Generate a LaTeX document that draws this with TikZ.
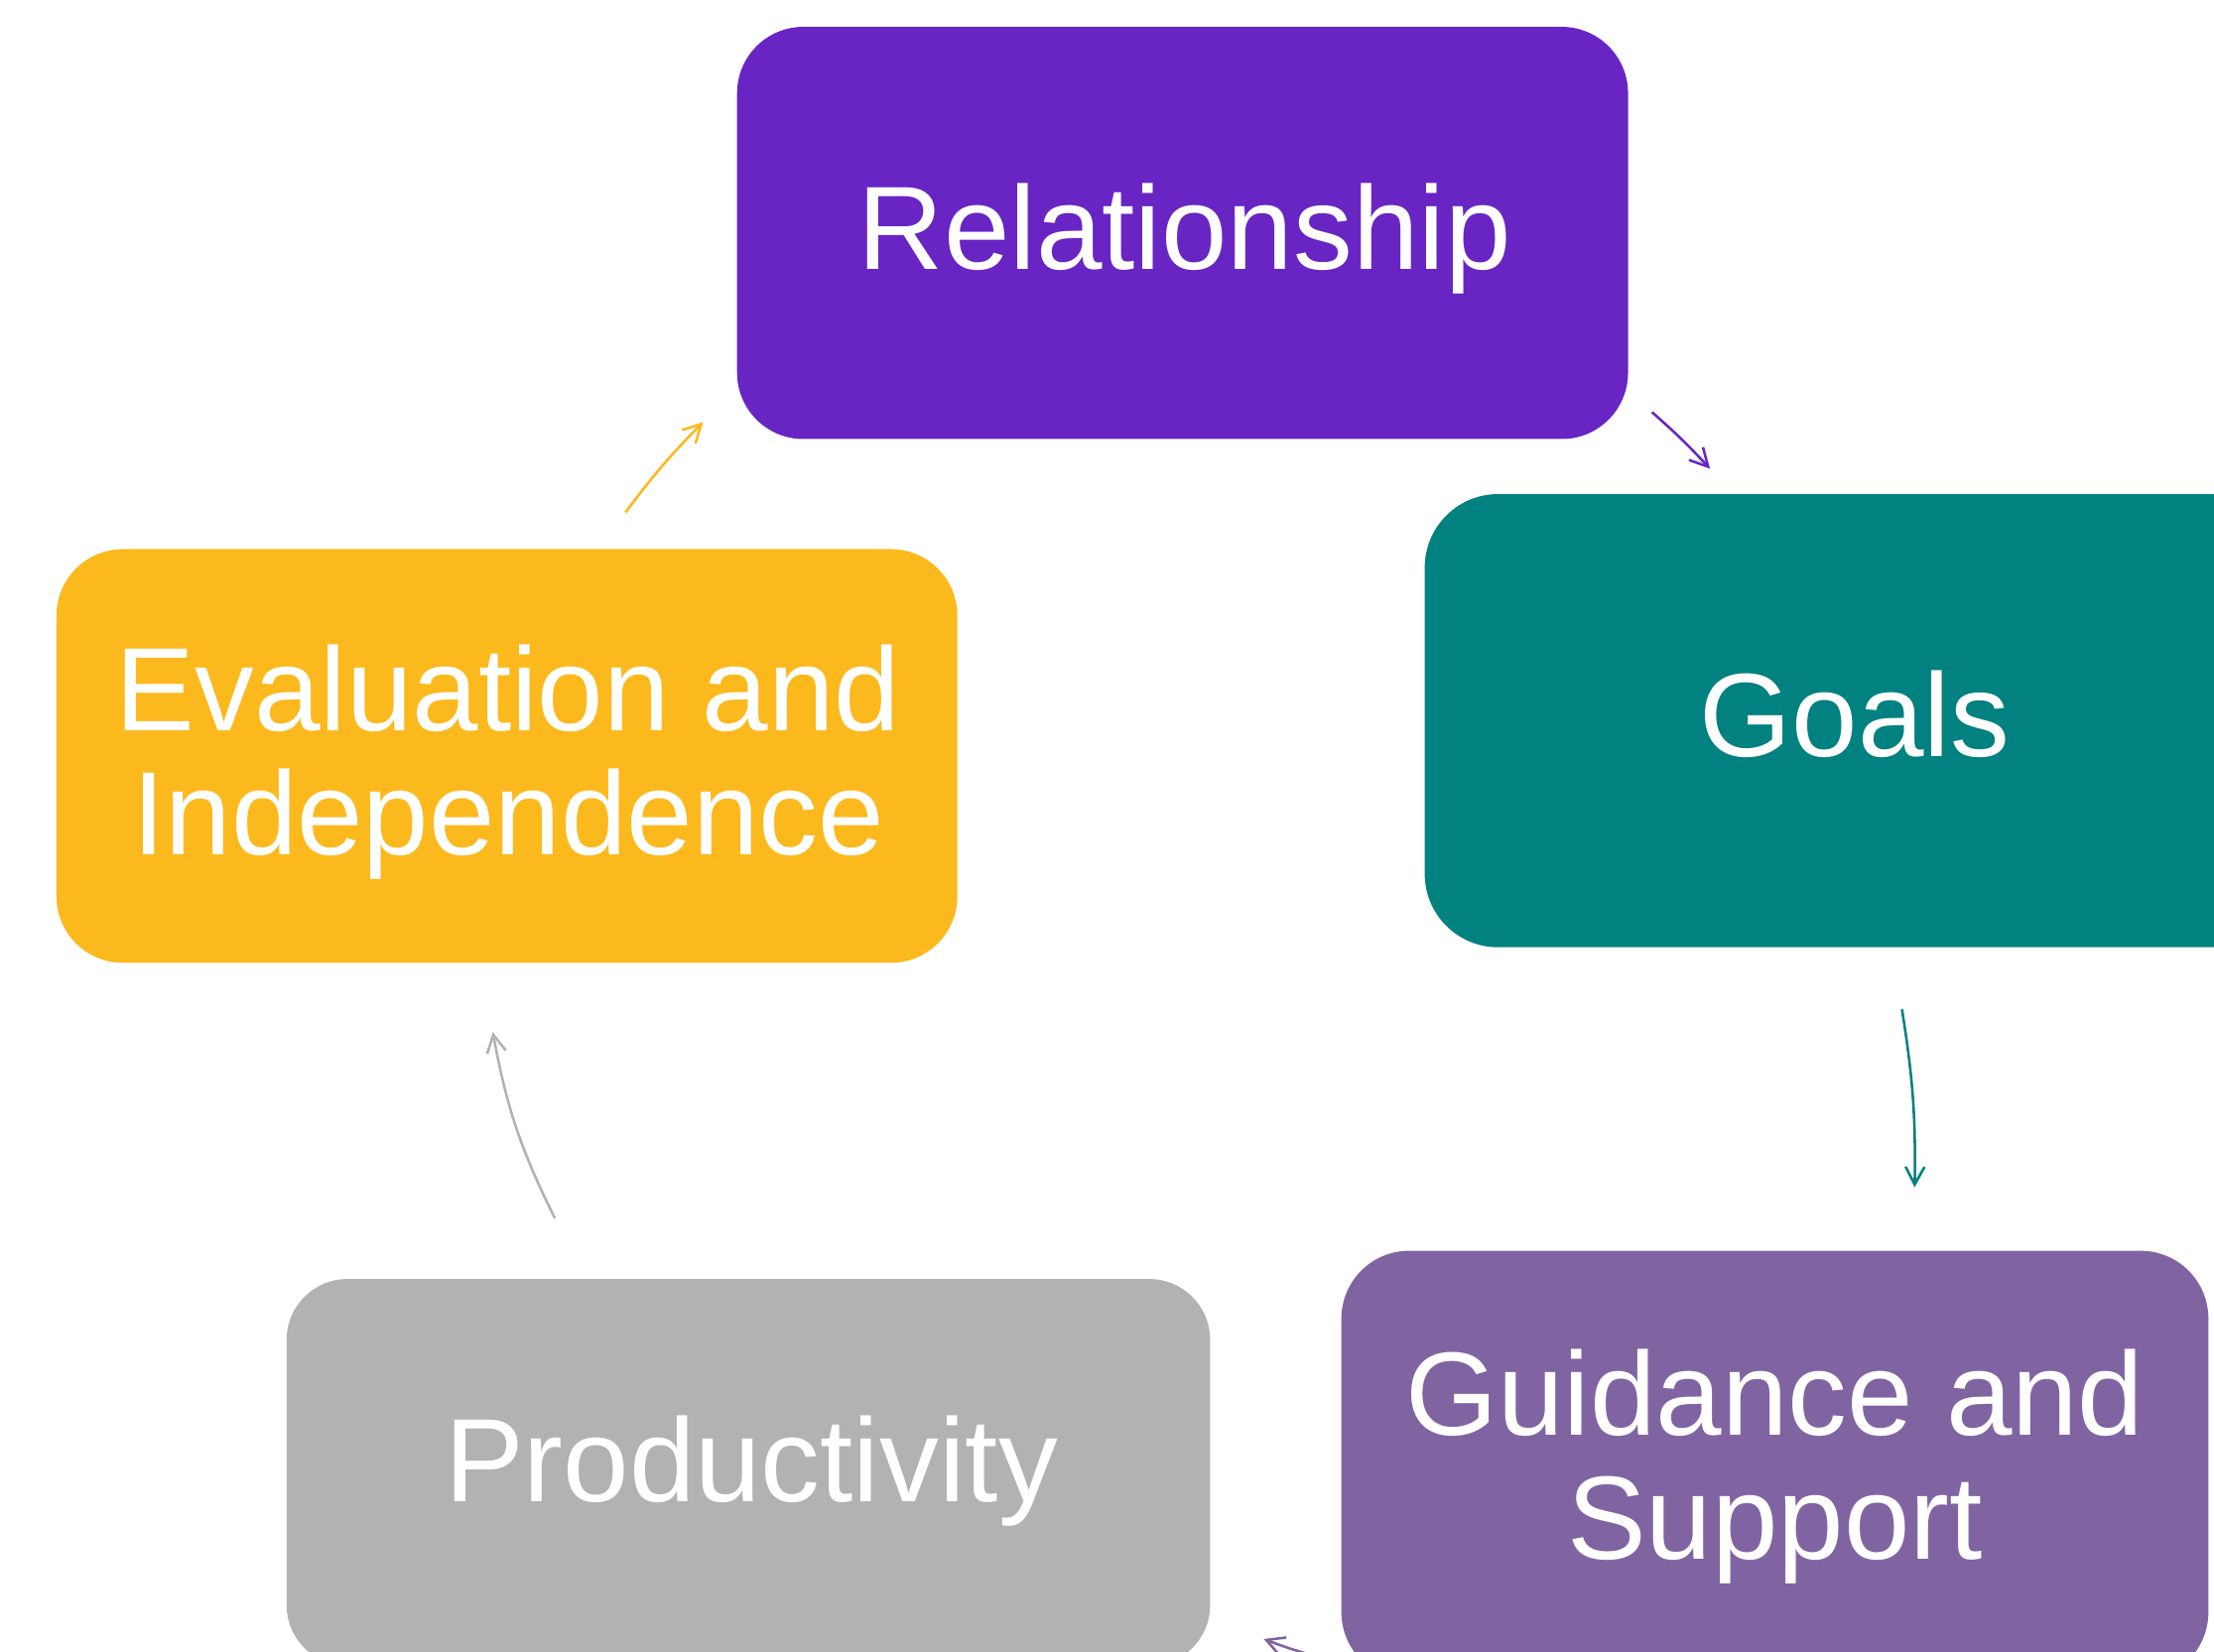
\documentclass[tikz,border=0pt]{standalone}
\usepackage{fontspec}
\setmainfont{Liberation Sans}
\usetikzlibrary{arrows.meta}
\definecolor{relc}{HTML}{6825C4}
\definecolor{goalc}{HTML}{028181}
\definecolor{guidc}{HTML}{8064A2}
\definecolor{prodc}{HTML}{B2B2B2}
\definecolor{evalc}{HTML}{FCB91E}
\begin{document}
\begin{tikzpicture}[x=0.5pt,y=0.5pt,
  box/.style={rectangle, inner sep=0pt, draw=none},
  lbl/.style={text=white, font=\fontsize{42}{44}\selectfont, align=center, inner sep=0pt},
  cyc/.style={line width=0.9pt, -{Straight Barb[length=6.3pt,width=6.7pt]}}]
\useasboundingbox (0,0) rectangle (1568,-1170);
\clip (0,0) rectangle (1568,-1170);
% boxes
\node[box, fill=relc, rounded corners=23.5pt, minimum width=315.5pt, minimum height=146pt] (rel) at (837.5,-165) {};
\node[box, fill=goalc, rounded corners=26pt, minimum width=304pt, minimum height=160.5pt] (goals) at (1313,-510.5) {};
\node[box, fill=guidc, rounded corners=24pt, minimum width=307pt, minimum height=152pt] (guid) at (1257,-1038) {};
\node[box, fill=prodc, rounded corners=21.5pt, minimum width=327pt, minimum height=137pt] (prod) at (530,-1043) {};
\node[box, fill=evalc, rounded corners=23.5pt, minimum width=319pt, minimum height=146.5pt] (eval) at (359,-535.5) {};
% labels
\node[lbl, anchor=base] (relt) at (839,-191) {Relationship};
\node[lbl, anchor=base] (goalst) at (1313.5,-536) {Goals};
\node[lbl] (evalt) at (360,-540) {Evaluation and\\Independence};
\node[lbl] (guidt) at (1257,-1039) {Guidance and\\Support};
\node[lbl, anchor=base] (prodt) at (532,-1064) {Productivity};
% arrow end points
\coordinate (a1s) at (443,-363);  \coordinate (a1e) at (498,-299);
\coordinate (a2s) at (1170,-292); \coordinate (a2e) at (1211,-332);
\coordinate (a3s) at (1347,-715); \coordinate (a3e) at (1356,-841);
\coordinate (a4s) at (935,-1174); \coordinate (a4e) at (895,-1161);
\coordinate (a5s) at (393,-863);  \coordinate (a5e) at (349,-731);
% arrows
\draw[cyc, draw=evalc] (a1s) to[bend left=4] (a1e);
\draw[cyc, draw=relc] (a2s) to[bend left=3] (a2e);
\draw[cyc, draw=goalc] (a3s) to[bend left=5] (a3e);
\draw[cyc, draw=guidc] (a4s) to[bend left=3] (a4e);
\draw[cyc, draw=prodc] (a5s) to[bend left=8] (a5e);
\end{tikzpicture}
\end{document}
